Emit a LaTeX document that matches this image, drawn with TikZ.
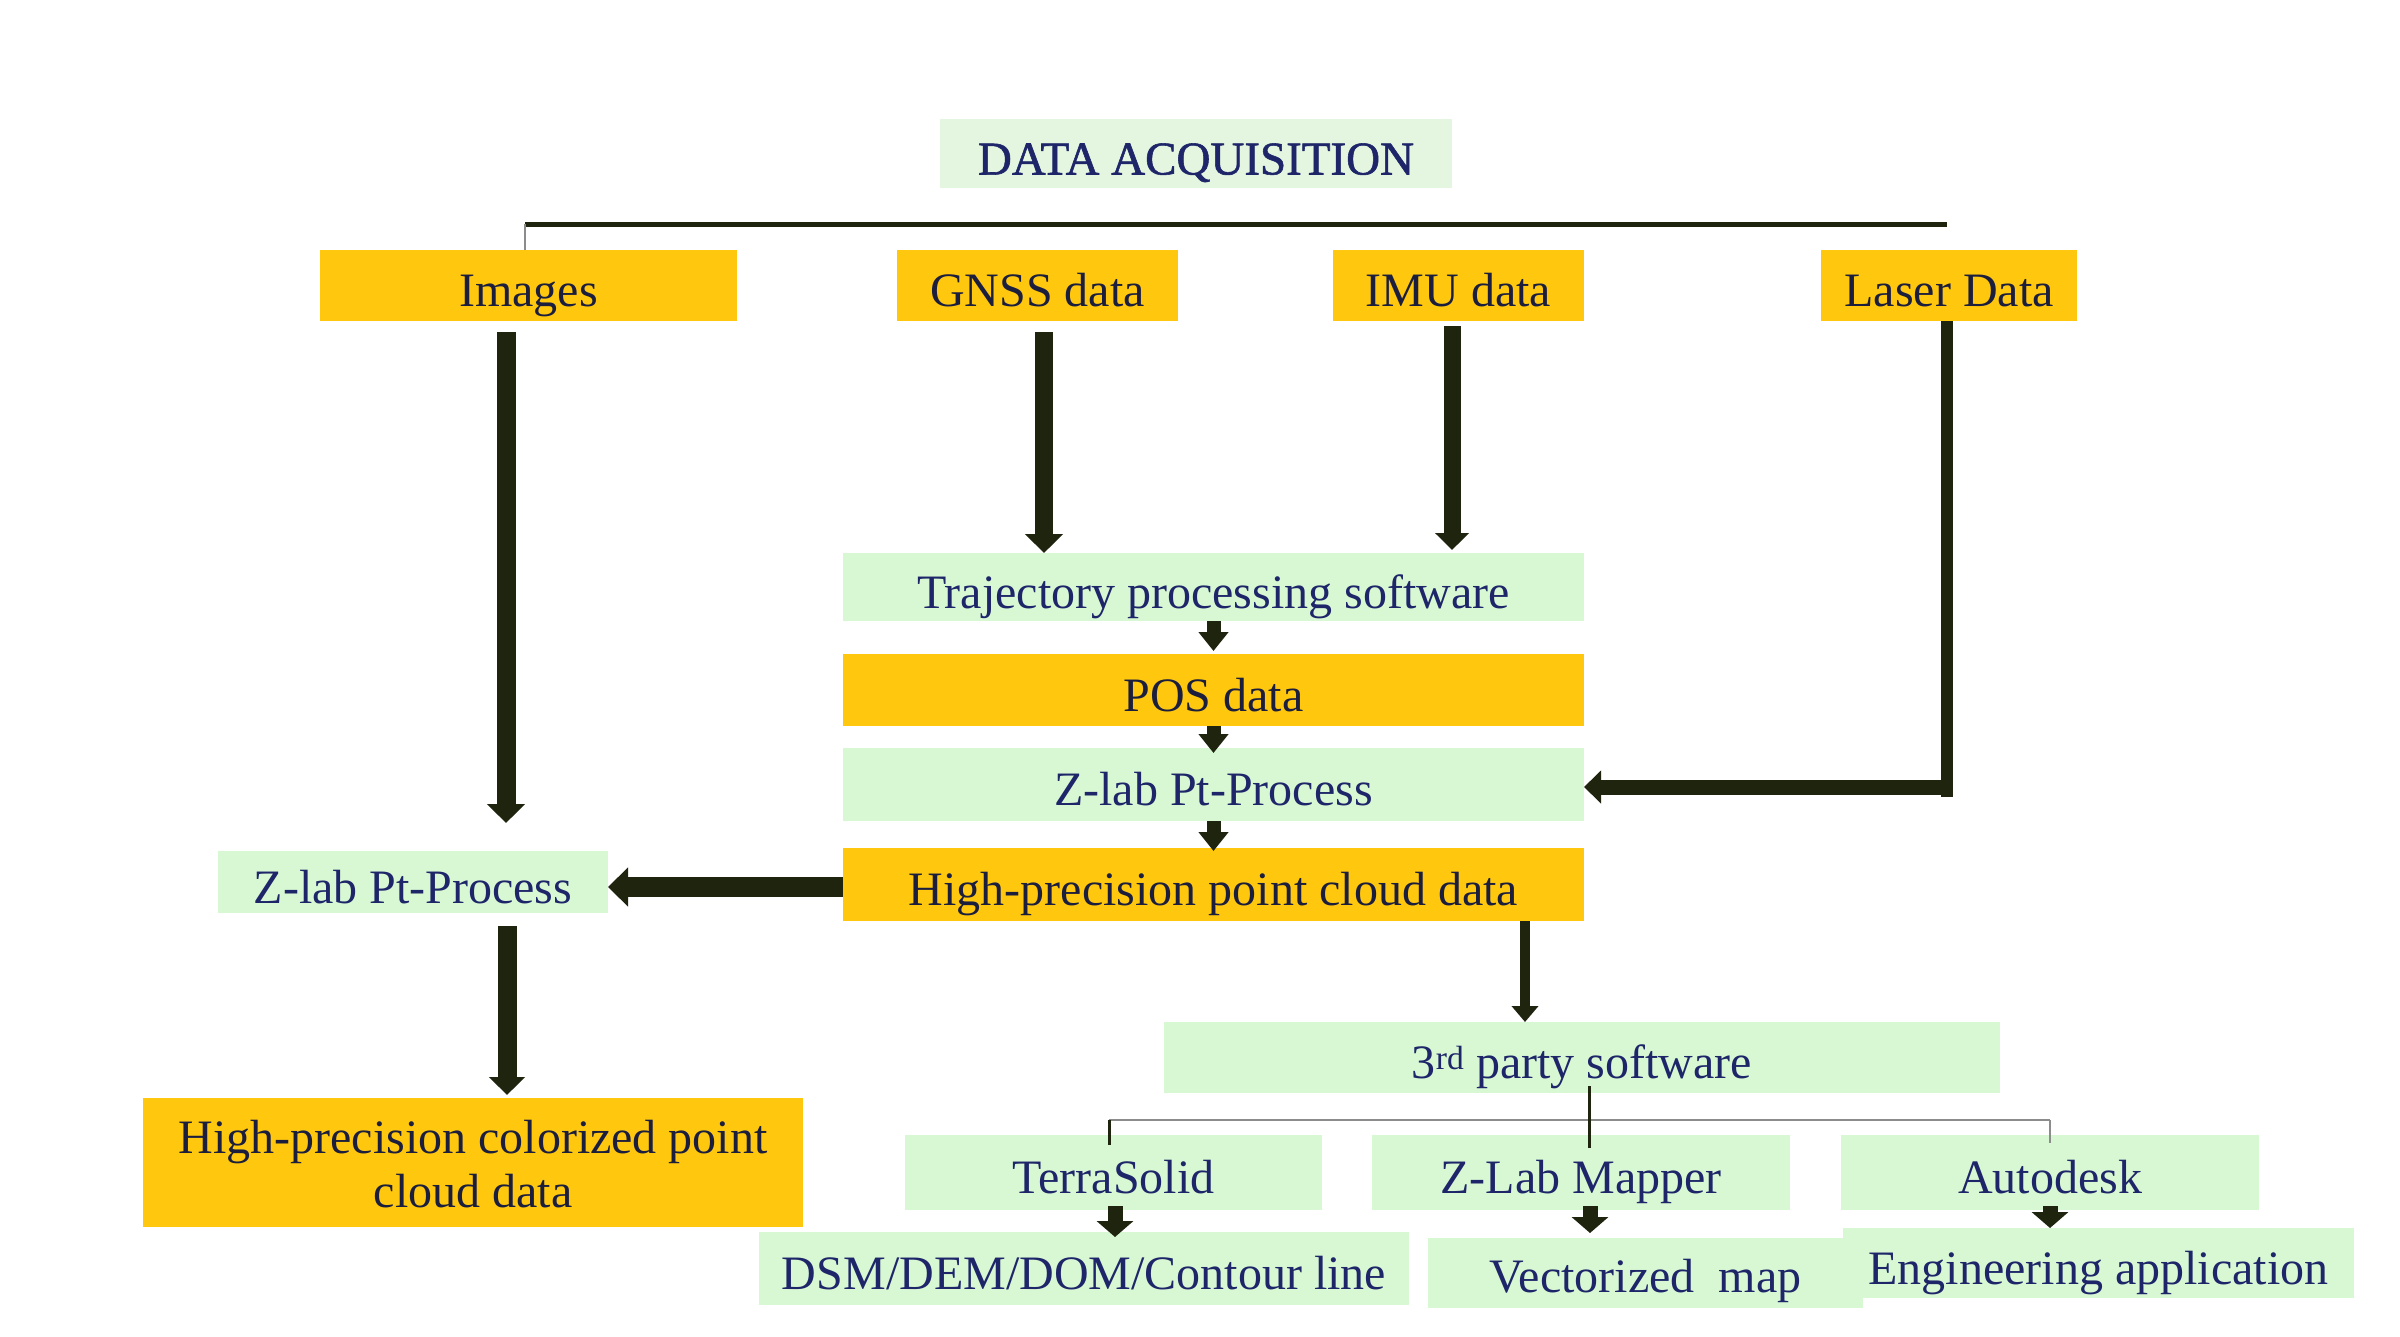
\documentclass[tikz,border=0pt]{standalone}
\usepackage{fontspec}
\setmainfont{Liberation Serif}
\usetikzlibrary{arrows.meta}
\definecolor{gold}{RGB}{255,200,14}
\definecolor{mint}{RGB}{216,248,212}
\definecolor{mintpale}{RGB}{228,245,224}
\definecolor{navy}{RGB}{30,38,105}
\definecolor{ink}{RGB}{28,30,62}
\definecolor{arr}{RGB}{30,36,14}
\definecolor{thingray}{RGB}{140,140,140}
\begin{document}
\begin{tikzpicture}[x=1pt,y=-1pt,
  box/.style={inner sep=0pt, outer sep=0pt, text height=42pt, text depth=0pt, font=\fontsize{48}{56}\selectfont},
  ybox/.style={box, fill=gold, text=ink},
  gbox/.style={box, fill=mint, text=navy},
  bigarrow/.style={draw=arr, line width=19pt, -{Triangle[width=37pt,length=19pt]}},
  smallarrow/.style={draw=arr, line width=14pt, -{Triangle[width=29pt,length=19pt]}},
  lowarrow/.style={draw=arr, line width=15pt, -{Triangle[width=36pt,length=16pt]}},
  midarrow/.style={draw=arr, line width=10pt, -{Triangle[width=26pt,length=16pt]}},
  treeline/.style={draw=arr, line width=3pt},
  hairline/.style={draw=thingray, line width=2pt}
]
\useasboundingbox (0,0) rectangle (2400,1336);
\fill[white] (0,0) rectangle (2400,1336);

% nodes
\node[box, fill=mintpale, text=navy, font=\fontsize{47}{56}\selectfont\addfontfeature{FakeBold=1.2}, minimum width=512pt, minimum height=69pt] (da) at (1196,153.5) {DATA ACQUISITION};
\node[ybox, minimum width=417pt, minimum height=71pt] (img) at (528.5,285.5) {Images};
\node[ybox, minimum width=281pt, minimum height=71pt] (gnss) at (1037.5,285.5) {GNSS data};
\node[ybox, minimum width=251pt, minimum height=71pt] (imu) at (1458.5,285.5) {IMU data};
\node[ybox, minimum width=256pt, minimum height=71pt] (laser) at (1949,285.5) {Laser Data};

\node[gbox, minimum width=741pt, minimum height=68pt] (traj) at (1213.5,587) {Trajectory processing software};
\node[ybox, minimum width=741pt, minimum height=72pt] (pos) at (1213.5,690) {POS data};
\node[gbox, minimum width=741pt, minimum height=73pt] (zc) at (1213.5,784.5) {Z-lab Pt-Process};
\node[ybox, minimum width=741pt, minimum height=73pt] (hp) at (1213.5,884.5) {High-precision point cloud data};

\node[gbox, minimum width=390pt, minimum height=62pt] (zl) at (413,882) {Z-lab Pt-Process};
\node[inner sep=0pt, outer sep=0pt, fill=gold, text=ink, font=\fontsize{48}{54}\selectfont, align=center, minimum width=660pt, minimum height=129pt] (col) at (473,1162.5) {\rule{0pt}{36pt}High-precision colorized point\\cloud data};

\node[gbox, minimum width=836pt, minimum height=71pt] (third) at (1582,1057.5) {3\textsuperscript{rd} party software};
\node[gbox, minimum width=417pt, minimum height=75pt] (terra) at (1113.5,1172.5) {TerraSolid};
\node[gbox, minimum width=418pt, minimum height=75pt] (mapper) at (1581,1172.5) {Z-Lab Mapper};
\node[gbox, minimum width=418pt, minimum height=75pt] (auto) at (2050,1172.5) {Autodesk};
\node[gbox, minimum width=650pt, minimum height=73pt] (dsm) at (1084,1268.5) {DSM/DEM/DOM/Contour line};
\node[gbox, minimum width=435pt, minimum height=70pt, text height=38pt] (vec) at (1645.5,1273) {Vectorized\ \ map};
\node[gbox, minimum width=511pt, minimum height=70pt] (eng) at (2098.5,1263) {Engineering application};

% top distribution line
\coordinate (tl0) at ([xshift=-3.5pt,yshift=26pt]img.north);
\coordinate (tr0) at ([xshift=-2pt,yshift=26pt]laser.north);
\draw[draw=arr, line width=5pt] (tl0) -- (tr0);
\draw[hairline, line width=1.5pt] (tl0) -- ([xshift=-3.5pt]img.north);

% Images -> left Z-lab
\draw[bigarrow] ([xshift=-22.5pt,yshift=-11pt]img.south) -- ([xshift=93pt,yshift=28pt]zl.north);
% GNSS -> trajectory
\coordinate (g1) at ([xshift=6.5pt,yshift=-11pt]gnss.south);
\draw[bigarrow, line width=18pt] (g1) -- (g1 |- traj.north);
% IMU -> trajectory
\coordinate (i1) at ([xshift=-6.5pt,yshift=-5pt]imu.south);
\draw[bigarrow, line width=17pt, -{Triangle[width=33pt,length=17pt]}] (i1) -- ([yshift=3pt]i1 |- traj.north);
% Laser -> center Z-lab
\coordinate (lc) at ([xshift=-2pt]laser.south |- zc.east);
\draw[draw=arr, line width=12pt] ([xshift=-2pt]laser.south) -- ([yshift=-12pt]lc);
\draw[draw=arr, line width=15pt, -{Triangle[width=32pt,length=17pt]}] ([xshift=6pt,yshift=-2.5pt]lc) -- ([yshift=-2.5pt]zc.east);

% center column
\draw[smallarrow] (traj.south) -- ([yshift=3pt]pos.north);
\draw[smallarrow] (pos.south) -- ([yshift=-5pt]zc.north);
\draw[smallarrow] (zc.south) -- ([yshift=-3pt]hp.north);

% hp -> left Z-lab
\draw[draw=arr, line width=20pt, -{Triangle[width=38pt,length=20pt]}] ([yshift=-2.5pt]hp.west) -- ([yshift=-2.5pt]hp.west -| zl.east);
% left Z-lab -> colorized
\draw[bigarrow, -{Triangle[width=35pt,length=18pt]}] ([xshift=94pt,yshift=-13pt]zl.south) -- ([xshift=34pt,yshift=3pt]col.north);

% hp -> 3rd party
\coordinate (h3) at ([xshift=311.5pt]hp.south);
\draw[midarrow] (h3) -- (h3 |- third.north);

% tree under 3rd party
\coordinate (tl) at ([xshift=-4.5pt,yshift=15pt]terra.north);
\coordinate (tr) at ([yshift=15pt]auto.north);
\draw[hairline] (tl) -- (tr);
\draw[treeline] (tl) -- ([xshift=-4.5pt,yshift=-10pt]terra.north);
\draw[hairline, line width=1.5pt] (tr) -- ([yshift=-8pt]auto.north);
\draw[treeline] ([xshift=7pt,yshift=7pt]third.south) -- ([xshift=8pt,yshift=-13pt]mapper.north);

% lower arrows
\coordinate (t1) at ([xshift=1.5pt,yshift=4pt]terra.south);
\draw[lowarrow] (t1) -- ([yshift=-5pt]t1 |- dsm.north);
\coordinate (m1) at ([xshift=9pt,yshift=4pt]mapper.south);
\draw[lowarrow] (m1) -- ([yshift=5pt]m1 |- vec.north);
\coordinate (a1) at ([yshift=4pt]auto.south);
\draw[lowarrow] (a1) -- (a1 |- eng.north);
\end{tikzpicture}
\end{document}
